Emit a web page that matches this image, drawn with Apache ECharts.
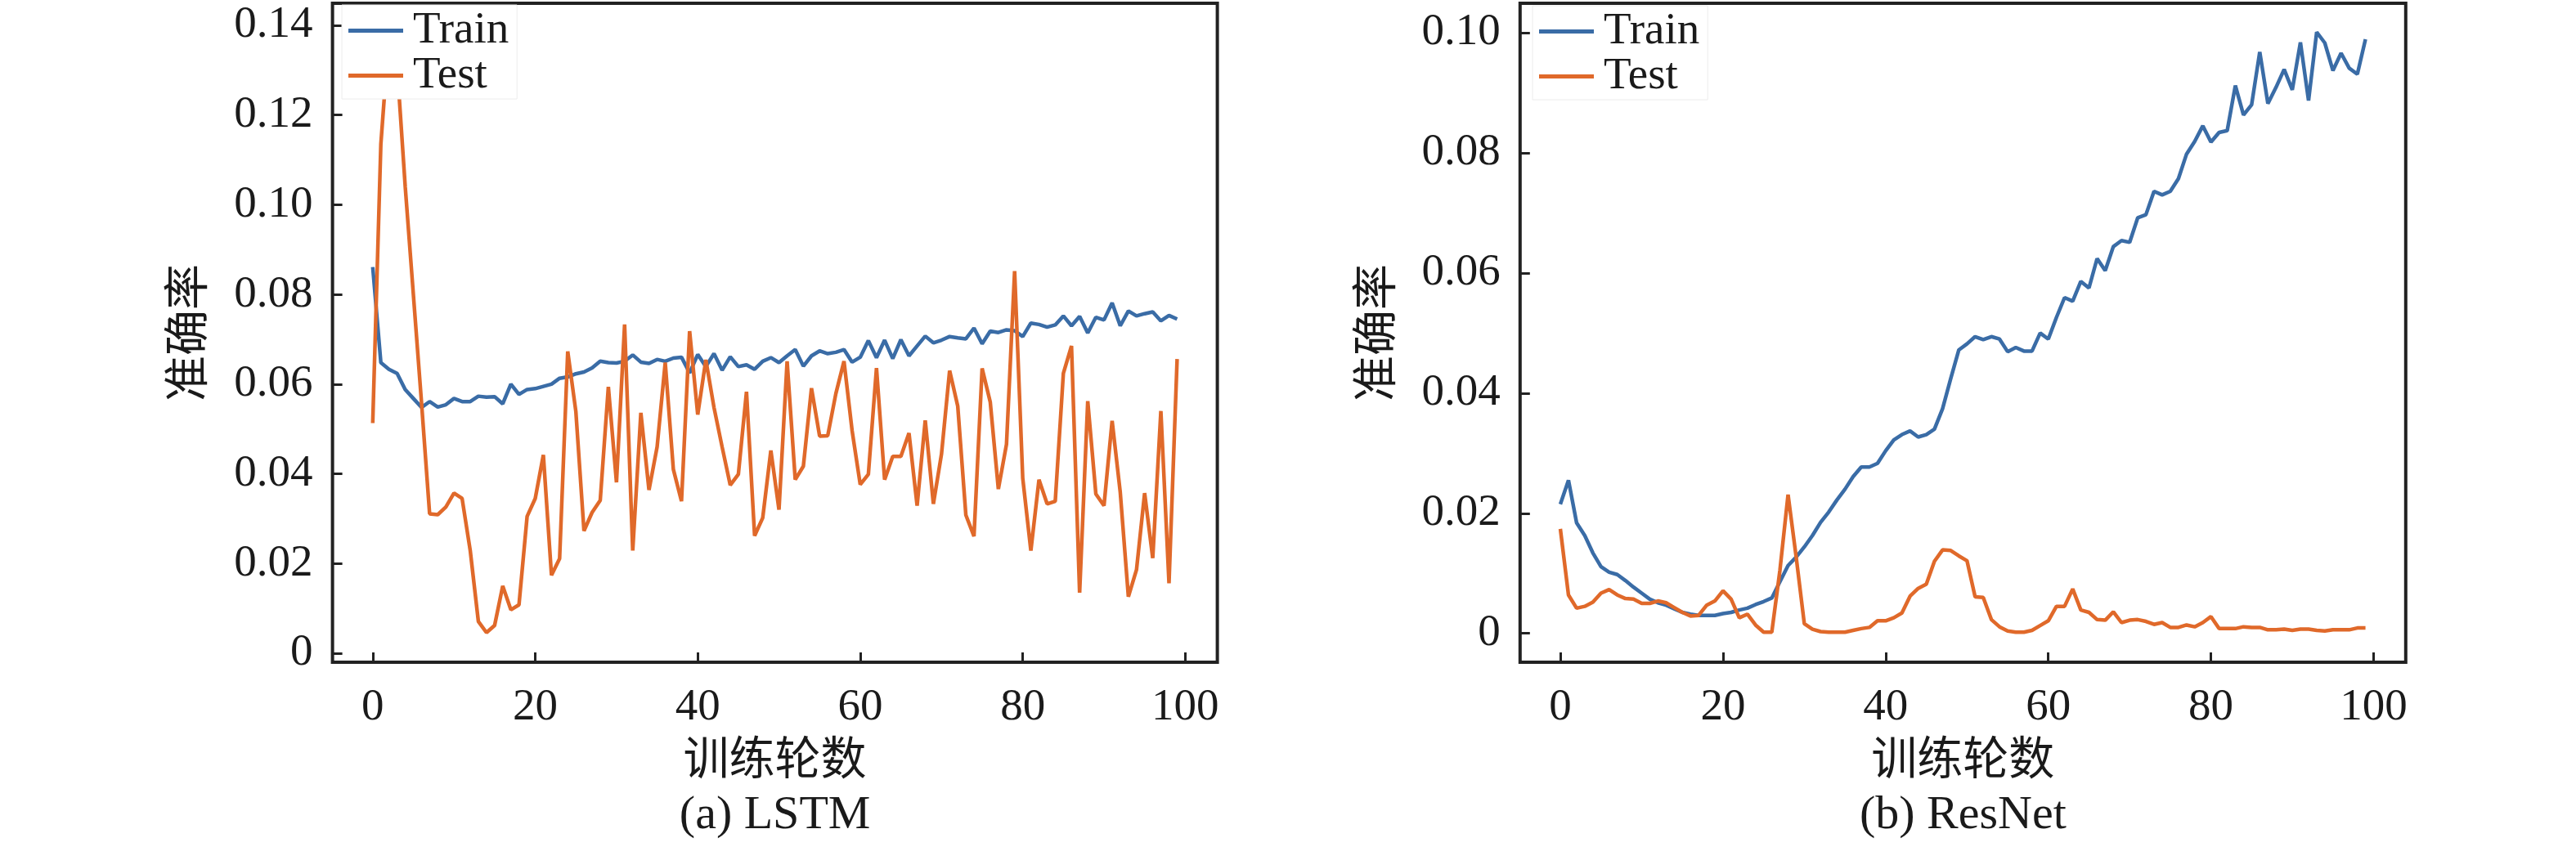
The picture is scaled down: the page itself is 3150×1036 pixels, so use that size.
<!DOCTYPE html>
<html>
<head>
<meta charset="utf-8">
<script src="https://cdn.jsdelivr.net/npm/echarts@6/dist/echarts.min.js"></script>
<style>
html,body{margin:0;padding:0;background:#fff;}
#chart{width:3150px;height:1036px;}
</style>
</head>
<body>
<div id="chart"></div>
<script>
// ---- data ----
const epochs = Array.from({length: 100}, (_, i) => i);
const xTicks = [0, 20, 40, 60, 80, 100];
const lstmYTicks = [0, 0.02, 0.04, 0.06, 0.08, 0.10, 0.12, 0.14];
const resYTicks = [0, 0.02, 0.04, 0.06, 0.08, 0.10];
const seriesNames = ['Train', 'Test'];
const captions = ['(a) LSTM', '(b) ResNet'];
const xName = '训练轮数';
const yName = '准确率';

const lstmTrain = [0.0861,0.0648,0.0633,0.0624,0.0588,0.0568,0.0548,0.0561,0.0549,0.0554,
0.0568,0.0561,0.0561,0.0573,0.0571,0.0572,0.0556,0.0600,0.0577,0.0588,
0.0590,0.0595,0.0600,0.0613,0.0616,0.0623,0.0627,0.0636,0.0651,0.0648,
0.0647,0.0651,0.0665,0.0649,0.0646,0.0655,0.0651,0.0658,0.0660,0.0625,
0.0666,0.0639,0.0668,0.0631,0.0661,0.0639,0.0643,0.0633,0.0651,0.0659,
0.0648,0.0663,0.0677,0.0640,0.0663,0.0674,0.0668,0.0671,0.0677,0.0649,
0.0660,0.0697,0.0659,0.0698,0.0657,0.0699,0.0663,0.0685,0.0707,0.0692,
0.0698,0.0706,0.0703,0.0701,0.0725,0.0690,0.0718,0.0715,0.0721,0.0719,
0.0706,0.0736,0.0733,0.0727,0.0732,0.0752,0.0730,0.0751,0.0714,0.0749,
0.0743,0.0781,0.0730,0.0763,0.0752,0.0757,0.0761,0.0741,0.0753,0.0745];

const lstmTest = [0.0513,0.1135,0.1380,0.1310,0.1040,0.0800,0.0560,0.0311,0.0309,0.0326,
0.0357,0.0345,0.0229,0.0071,0.0046,0.0062,0.0150,0.0097,0.0108,0.0305,
0.0345,0.0442,0.0174,0.0211,0.0673,0.0539,0.0273,0.0314,0.0341,0.0594,
0.0381,0.0733,0.0229,0.0536,0.0364,0.0460,0.0648,0.0410,0.0339,0.0718,
0.0532,0.0654,0.0548,0.0460,0.0375,0.0399,0.0583,0.0262,0.0302,0.0452,
0.0320,0.0651,0.0387,0.0417,0.0591,0.0484,0.0485,0.0579,0.0651,0.0496,
0.0376,0.0399,0.0636,0.0387,0.0439,0.0439,0.0491,0.0329,0.0519,0.0333,
0.0444,0.0630,0.0551,0.0308,0.0261,0.0635,0.0560,0.0366,0.0466,0.0852,
0.0390,0.0229,0.0387,0.0333,0.0339,0.0624,0.0685,0.0135,0.0562,0.0355,
0.0329,0.0518,0.0359,0.0126,0.0186,0.0357,0.0212,0.0540,0.0156,0.0656];

const resTrain = [0.0215,0.0255,0.0184,0.0163,0.0134,0.0111,0.0102,0.0098,0.0088,0.0077,
0.0067,0.0057,0.0051,0.0047,0.0041,0.0035,0.0032,0.0030,0.0030,0.0030,
0.0033,0.0035,0.0039,0.0042,0.0048,0.0053,0.0059,0.0086,0.0113,0.0127,
0.0144,0.0163,0.0185,0.0202,0.0222,0.0240,0.0261,0.0277,0.0277,0.0283,
0.0304,0.0322,0.0331,0.0337,0.0327,0.0331,0.0340,0.0374,0.0424,0.0472,
0.0482,0.0494,0.0489,0.0494,0.0490,0.0469,0.0476,0.0470,0.0470,0.0500,
0.0490,0.0526,0.0559,0.0553,0.0586,0.0575,0.0624,0.0604,0.0644,0.0654,
0.0651,0.0692,0.0697,0.0736,0.0730,0.0736,0.0757,0.0798,0.0819,0.0845,
0.0818,0.0834,0.0837,0.0912,0.0863,0.0880,0.0968,0.0882,0.0909,0.0939,
0.0905,0.0984,0.0887,0.1001,0.0983,0.0937,0.0966,0.0941,0.0931,0.0989];

const resTest = [0.0174,0.0064,0.0042,0.0045,0.0052,0.0067,0.0073,0.0064,0.0058,0.0057,
0.0050,0.0050,0.0054,0.0051,0.0043,0.0035,0.0029,0.0030,0.0047,0.0054,
0.0071,0.0057,0.0026,0.0032,0.0014,0.0002,0.0002,0.0105,0.0231,0.0127,
0.0016,0.0007,0.0003,0.0002,0.0002,0.0002,0.0005,0.0008,0.0010,0.0021,
0.0021,0.0026,0.0034,0.0062,0.0075,0.0082,0.0120,0.0139,0.0138,0.0129,
0.0121,0.0061,0.0060,0.0023,0.0011,0.0004,0.0002,0.0002,0.0005,0.0013,
0.0021,0.0045,0.0045,0.0074,0.0039,0.0035,0.0023,0.0022,0.0036,0.0018,
0.0022,0.0023,0.0020,0.0015,0.0018,0.0010,0.0010,0.0014,0.0011,0.0018,
0.0028,0.0008,0.0008,0.0008,0.0011,0.0010,0.0010,0.0006,0.0006,0.0007,
0.0005,0.0007,0.0007,0.0005,0.0004,0.0006,0.0006,0.0006,0.0009,0.0009];

// ---- styling ----
const FONT = "'Liberation Serif', 'Times New Roman', 'Noto Sans CJK SC', serif";
const TXT = '#1a1a1a';
const BLUE = '#3a6ca6';
const ORANGE = '#e0692a';
const FS = 55;

const pairs = arr => epochs.map((e, i) => [e, arr[i]]);
const yFmt = v => (Math.abs(v) < 1e-9 ? '0' : v.toFixed(2));

const grids = [
  {left: 406.6, top: 4, width: 1082, height: 806},
  {left: 1858.8, top: 4, width: 1083, height: 806}
];

function xAxisCfg(gi) {
  return {
    type: 'value', gridIndex: gi, min: -4.95, max: 103.95,
    axisLine: {show: false, onZero: false},
    splitLine: {show: false},
    axisTick: {show: true, inside: true, length: 12, customValues: xTicks,
               lineStyle: {color: '#222', width: 3}},
    axisLabel: {customValues: xTicks, margin: 28, fontFamily: FONT, fontSize: FS, color: TXT},
    name: xName, nameLocation: 'middle', nameGap: 94,
    nameTextStyle: {fontFamily: FONT, fontSize: 56, color: TXT}
  };
}
function yAxisCfg(gi, mn, mx, ticks) {
  return {
    type: 'value', gridIndex: gi, min: mn, max: mx,
    axisLine: {show: false, onZero: false},
    splitLine: {show: false},
    axisTick: {show: true, inside: true, length: 12, customValues: ticks,
               lineStyle: {color: '#222', width: 3}},
    axisLabel: {customValues: ticks, margin: 24, fontFamily: FONT, fontSize: FS, color: TXT,
                formatter: yFmt},
    name: yName, nameLocation: 'middle', nameGap: 145,
    nameTextStyle: {fontFamily: FONT, fontSize: 56, color: TXT}
  };
}
function legendCfg(left, top) {
  return {
    left: left, top: top, orient: 'vertical', icon: 'rect',
    itemWidth: 67, itemHeight: 5, itemGap: 0,
    padding: [4, 10, 1, 8],
    backgroundColor: '#ffffff', borderColor: '#ececec', borderWidth: 1, borderRadius: 0,
    textStyle: {fontFamily: FONT, fontSize: FS, color: TXT, lineHeight: 51, padding: [0, 0, 0, 7]},
    data: seriesNames
  };
}
function lineSeries(name, data, gi, color) {
  return {
    name: name, type: 'line', xAxisIndex: gi, yAxisIndex: gi,
    data: pairs(data), showSymbol: false, symbol: 'none',
    lineStyle: {color: color, width: 4.5}, itemStyle: {color: color},
    z: 2
  };
}

const chart = echarts.init(document.getElementById('chart'), null, {renderer: 'canvas'});
chart.setOption({
  animation: false,
  backgroundColor: '#ffffff',
  grid: grids.map(g => Object.assign({show: true, borderColor: '#222', borderWidth: 4,
                                      backgroundColor: 'transparent'}, g)),
  xAxis: [xAxisCfg(0), xAxisCfg(1)],
  yAxis: [yAxisCfg(0, -0.0020, 0.1449, lstmYTicks), yAxisCfg(1, -0.0048, 0.1049, resYTicks)],
  legend: [legendCfg(418, 6), legendCfg(1874, 7)],
  series: [
    lineSeries(seriesNames[0], lstmTrain, 0, BLUE),
    lineSeries(seriesNames[1], lstmTest, 0, ORANGE),
    lineSeries(seriesNames[0], resTrain, 1, BLUE),
    lineSeries(seriesNames[1], resTest, 1, ORANGE)
  ],
  graphic: [
    {type: 'text', x: 947.6, y: 969, style: {text: captions[0], align: 'center', verticalAlign: 'top',
      font: "58px 'Liberation Serif', 'Times New Roman', serif", fill: TXT}},
    {type: 'text', x: 2400.4, y: 969, style: {text: captions[1], align: 'center', verticalAlign: 'top',
      font: "58px 'Liberation Serif', 'Times New Roman', serif", fill: TXT}}
  ]
});
</script>
</body>
</html>
